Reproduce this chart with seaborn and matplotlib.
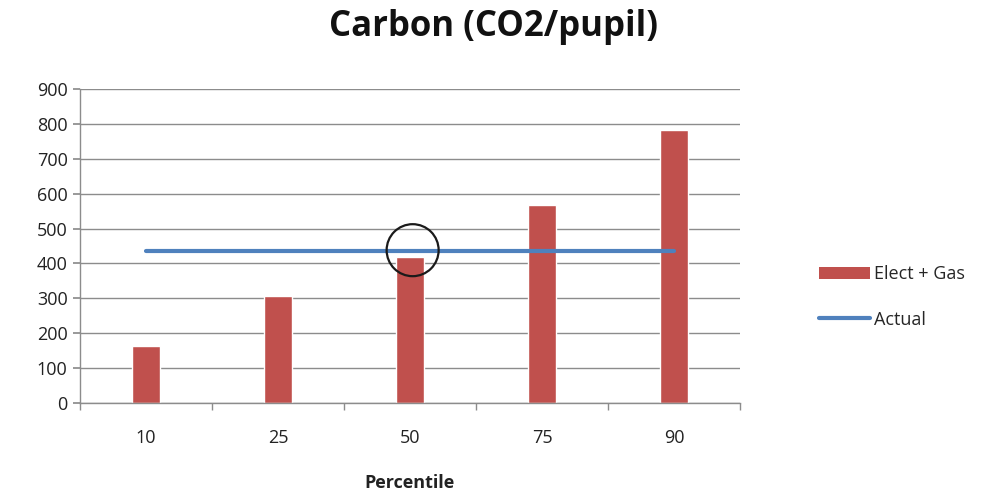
import matplotlib
matplotlib.use("Agg")
import matplotlib.pyplot as plt
import seaborn as sns
import pandas as pd
from matplotlib.patches import Ellipse
from matplotlib.lines import Line2D
from matplotlib.patches import Patch

percentiles = ["10", "25", "50", "75", "90"]
elect_gas = [163, 307, 419, 567, 782]
actual = [435, 435, 435, 435, 435]

sns.set_theme(style="white")
plt.rcParams['font.family'] = ['Open Sans', 'DejaVu Sans']

fig = plt.figure(figsize=(9.93, 4.95), dpi=100)
ax = fig.add_axes([80/993, 1-403/495, 660/993, 314/495])

df = pd.DataFrame({"Percentile": percentiles, "Elect + Gas": elect_gas})
sns.barplot(data=df, x="Percentile", y="Elect + Gas", color="#C0504D",
            saturation=1, width=0.21, ax=ax, zorder=2)
ax.plot(range(len(percentiles)), actual, color="#4F81BD", lw=3, zorder=3,
        solid_capstyle="round")

ax.set_ylim(0, 900)
ax.set_yticks(range(0, 901, 100))
ax.set_xlim(-0.5, len(percentiles) - 0.5)
ax.yaxis.grid(True, color="#8c8c8c", lw=1)
ax.set_axisbelow(True)
for s in ["top", "right"]:
    ax.spines[s].set_visible(False)
for s in ["left", "bottom"]:
    ax.spines[s].set_color("#8c8c8c")
    ax.spines[s].set_linewidth(1)

ax.tick_params(axis="y", left=True, length=5, color="#8c8c8c", labelsize=13,
               labelcolor="#222222", pad=4)
ax.set_xticks(range(len(percentiles)))
ax.set_xticklabels(percentiles)
ax.tick_params(axis="x", bottom=False, labelsize=13, labelcolor="#222222", pad=13)
# minor ticks at category boundaries
ax.set_xticks([i - 0.5 for i in range(len(percentiles) + 1)], minor=True)
ax.tick_params(axis="x", which="minor", bottom=True, length=5, color="#8c8c8c")

ax.set_ylabel("")
ax.set_xlabel("")
fig.text(410/993, 1-483/495, "Percentile", ha="center", va="center",
         fontsize=13, fontweight="bold", color="#222222")

# annotation circle
circ = Ellipse((2.02, 438), width=52/132, height=52/(314/900), fill=False,
               edgecolor="#1a1a1a", lw=1.6, zorder=4, clip_on=False)
ax.add_patch(circ)

fig.text(0.497, 0.945, "Carbon (CO2/pupil)", ha="center", va="center",
         fontsize=25, fontweight="bold", color="#111111")

handles = [Patch(facecolor="#C0504D", edgecolor="none", label="Elect + Gas"),
           Line2D([0], [0], color="#4F81BD", lw=3, label="Actual")]
leg = fig.legend(handles=handles, loc="center left", bbox_to_anchor=(803/993, 1-297/495),
                 frameon=False, fontsize=13, handlelength=2.8, handleheight=0.7,
                 handletextpad=0.25, labelspacing=1.5)

fig.savefig("out.png", dpi=100)
